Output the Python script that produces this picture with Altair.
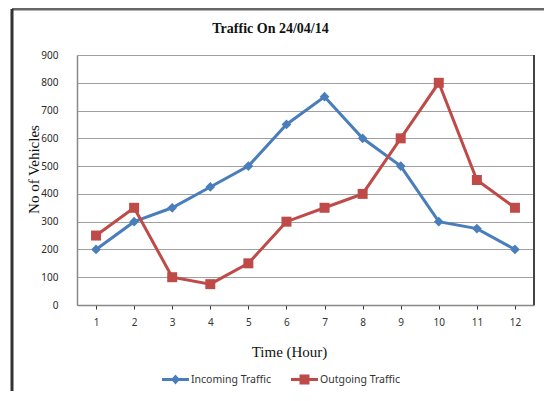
import altair as alt
import pandas as pd

hours = [1, 2, 3, 4, 5, 6, 7, 8, 9, 10, 11, 12]
incoming = [200, 300, 350, 425, 500, 650, 750, 600, 500, 300, 275, 200]
outgoing = [250, 350, 100, 75, 150, 300, 350, 400, 600, 800, 450, 350]
series_names = ["Incoming Traffic", "Outgoing Traffic"]
colors = ["#4A7EBB", "#BE4B48"]
y_ticks = [0, 100, 200, 300, 400, 500, 600, 700, 800, 900]

rows = []
for h, v in zip(hours, incoming):
    rows.append({"hour": h, "value": v, "series": series_names[0]})
for h, v in zip(hours, outgoing):
    rows.append({"hour": h, "value": v, "series": series_names[1]})
df = pd.DataFrame(rows)

W, H = 457, 250

x_enc = alt.X(
    "hour:O",
    scale=alt.Scale(type="point", padding=0.5),
    axis=alt.Axis(
        title="Time (Hour)", labelAngle=0, labelFont="Noto Sans", labelFontSize=10,
        labelColor="#333333", labelPadding=8, tickSize=4, tickColor="#333333",
        domainColor="#888888", domainWidth=1.5, grid=False,
        titleFont="Liberation Serif", titleFontSize=15, titleFontWeight="normal",
        titleColor="#111111", titleX=212, titleY=46, titleBaseline="middle",
    ),
)
y_enc = alt.Y(
    "value:Q",
    scale=alt.Scale(domain=[0, 900], nice=False),
    axis=alt.Axis(
        title="No of Vehicles", values=y_ticks, labelFont="Noto Sans", labelFontSize=10,
        labelColor="#2A2A2A", labelPadding=19, tickSize=0, domainColor="#888888",
        domainWidth=1.5, gridColor="#A0A0A0", gridWidth=1.2, labelOverlap=False,
        titleFont="Liberation Serif", titleFontSize=15, titleFontWeight="normal",
        titleColor="#111111", titleX=-44, titleY=114, titleAngle=-90,
        titleBaseline="middle", titleAlign="center",
    ),
)
color_scale = alt.Scale(domain=series_names, range=colors)

leg_paths = [
    "M-1,-0.11H1V0.11H-1Z M0,-0.37L0.33,0L0,0.37L-0.33,0Z",
    "M-1,-0.11H1V0.11H-1Z M-0.37,-0.37H0.37V0.37H-0.37Z",
]
leg = alt.Legend(
    title=None, orient="none", direction="horizontal", legendX=85, legendY=311,
    labelFont="Noto Sans", labelFontSize=10.5, labelColor="#333333", labelOffset=2,
    columnPadding=20, symbolOpacity=1, symbolStrokeWidth=0, symbolSize=729,
)
legend_layer = alt.Chart(df).mark_point(filled=True, opacity=0, size=729).encode(
    x=x_enc, y=y_enc,
    color=alt.Color("series:N", scale=color_scale, legend=leg),
    shape=alt.Shape("series:N", scale=alt.Scale(domain=series_names, range=leg_paths), legend=leg),
)

lines = alt.Chart(df).mark_line(strokeWidth=3).encode(
    x=x_enc, y=y_enc, color=alt.Color("series:N", scale=color_scale, legend=leg)
)
pts_in = alt.Chart(df).transform_filter(alt.datum.series == series_names[0]).mark_point(
    shape="diamond", filled=True, size=95, opacity=1
).encode(x=x_enc, y=y_enc, color=alt.Color("series:N", scale=color_scale, legend=leg))
pts_out = alt.Chart(df).transform_filter(alt.datum.series == series_names[1]).mark_point(
    shape="square", filled=True, size=100, opacity=1
).encode(x=x_enc, y=y_enc, color=alt.Color("series:N", scale=color_scale, legend=leg))

one = alt.Data(values=[{}])
right_border = alt.Chart(one).mark_rule(color="#444444", strokeWidth=2).encode(
    x=alt.value(W), y=alt.value(0), y2=alt.value(H)
)
frame_top = alt.Chart(one).mark_rule(color="#666666", strokeWidth=3).encode(
    x=alt.value(-65), x2=alt.value(470), y=alt.value(-46)
)
frame_left = alt.Chart(one).mark_rule(color="#333333", strokeWidth=3).encode(
    x=alt.value(-65), y=alt.value(-46), y2=alt.value(345)
)

chart = alt.layer(
    legend_layer, lines, pts_in, pts_out, right_border, frame_top, frame_left
).properties(
    width=W, height=H,
    autosize=alt.AutoSizeParams(type="none"),
    padding={"left": 69, "top": 47, "right": 10, "bottom": 86},
    title=alt.TitleParams(
        "Traffic On 24/04/14", font="Liberation Serif", fontSize=14, fontWeight="bold",
        color="#111111", anchor="middle", frame="group", dx=-35, offset=-28,
    ),
).configure_view(stroke=None).configure(background="white")

chart.save("out.html", embed_options={"renderer": "svg", "actions": False})
